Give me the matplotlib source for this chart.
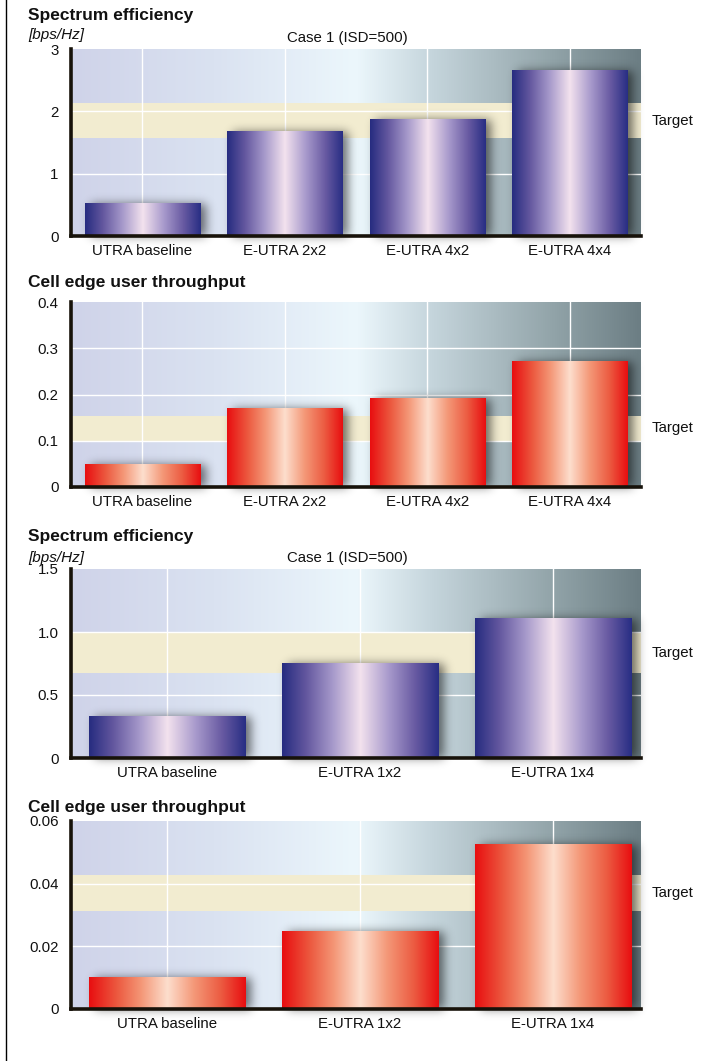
import numpy as np
import matplotlib
matplotlib.use("Agg")
import matplotlib.pyplot as plt
from matplotlib.colors import LinearSegmentedColormap
from matplotlib.lines import Line2D

plt.rcParams['font.family'] = ['Liberation Sans', 'DejaVu Sans']

# data
cats_4 = ['UTRA baseline', 'E-UTRA 2x2', 'E-UTRA 4x2', 'E-UTRA 4x4']
cats_3 = ['UTRA baseline', 'E-UTRA 1x2', 'E-UTRA 1x4']

se_4 = [0.53, 1.685, 1.88, 2.66]
ce_4 = [0.05, 0.171, 0.192, 0.272]
se_3 = [0.337, 0.754, 1.115]
ce_3 = [0.0102, 0.0249, 0.0527]

target_se_4 = (1.57, 2.13)
target_ce_4 = (0.0995, 0.1535)
target_se_3 = (0.674, 1.0)
target_ce_3 = (0.0313, 0.0428)

ticks_se_4 = [0, 1, 2, 3]
ticks_ce_4 = [0, 0.1, 0.2, 0.3, 0.4]
ticks_se_3 = [0, 0.5, 1.0, 1.5]
ticks_ce_3 = [0, 0.02, 0.04, 0.06]
ticklab_se_4 = ['0', '1', '2', '3']
ticklab_ce_4 = ['0', '0.1', '0.2', '0.3', '0.4']
ticklab_se_3 = ['0', '0.5', '1.0', '1.5']
ticklab_ce_3 = ['0', '0.02', '0.04', '0.06']

W, H = 713, 1061
fig = plt.figure(figsize=(W / 100, H / 100), dpi=100)


def rgb(*c):
    return tuple(v / 255 for v in c)


bg_cmap = LinearSegmentedColormap.from_list('bg', [
    (0.0, rgb(207, 211, 233)), (0.25, rgb(218, 226, 241)), (0.5, rgb(236, 247, 252)),
    (0.63, rgb(198, 214, 221)), (0.85, rgb(145, 163, 168)), (1.0, rgb(108, 126, 132))])
blue_cmap = LinearSegmentedColormap.from_list('blue', [
    (0.0, rgb(38, 44, 128)), (0.15, rgb(98, 86, 158)), (0.32, rgb(165, 152, 202)),
    (0.5, rgb(243, 226, 238)), (0.68, rgb(168, 154, 204)), (0.85, rgb(104, 90, 162)),
    (1.0, rgb(40, 46, 132))])
red_cmap = LinearSegmentedColormap.from_list('red', [
    (0.0, rgb(232, 14, 16)), (0.18, rgb(236, 90, 64)), (0.33, rgb(244, 150, 118)),
    (0.5, rgb(253, 222, 205)), (0.67, rgb(244, 152, 120)), (0.84, rgb(236, 92, 66)),
    (1.0, rgb(232, 14, 16))])

band_col = rgb(242, 236, 208)
txt = '#111111'
grad = np.linspace(0, 1, 256).reshape(1, -1)


def gauss_blur(a, sigma):
    r = int(3 * sigma)
    k = np.exp(-0.5 * (np.arange(-r, r + 1) / sigma) ** 2)
    k /= k.sum()
    a = np.apply_along_axis(lambda v: np.convolve(v, k, mode='same'), 0, a)
    a = np.apply_along_axis(lambda v: np.convolve(v, k, mode='same'), 1, a)
    return a


def panel(top, bot, cats, vals, ticks, ticklabs, target, cmap, xr):
    ax = fig.add_axes([71 / W, 1 - bot / H, 570 / W, (bot - top) / H])
    x = np.arange(len(cats))
    ymax = ticks[-1]
    # size of one pixel in data units
    px_x = (xr[1] - xr[0]) / 570
    px_y = ymax / (bot - top)

    ax.imshow(grad, extent=[0, 1, 0, 1], transform=ax.transAxes, aspect='auto',
              cmap=bg_cmap, zorder=0)
    ax.axhspan(target[0], target[1], color=band_col, zorder=1, lw=0)
    for t in ticks[1:-1]:
        ax.axhline(t, color='white', lw=1, zorder=1.5)
    for xi in x:
        ax.axvline(xi, color='white', lw=1, zorder=1.5)

    width = 0.81

    # soft drop shadow: blurred mask of the bars, shifted to the right
    m = 28
    nx, ny = 570 + 2 * m, (bot - top) + 2 * m
    xd = xr[0] + (np.arange(nx) - m + 0.5) * px_x
    yd = (np.arange(ny) - m + 0.5) * px_y
    XX, YY = np.meshgrid(xd, yd)
    mask = np.zeros_like(XX)
    for xi, v in zip(x, vals):
        inside = (np.abs(XX - xi - 6 * px_x) < width / 2) & (YY >= 0) & (YY < v - 1 * px_y)
        mask[inside] = 1
    sh = gauss_blur(mask, 5.0)
    rgba = np.zeros((ny, nx, 4))
    rgba[..., 3] = np.clip(sh, 0, 1) * 0.55
    ax.imshow(rgba, extent=[xd[0] - px_x / 2, xd[-1] + px_x / 2, yd[0] - px_y / 2, yd[-1] + px_y / 2],
              origin='lower', aspect='auto', zorder=2, clip_on=False, interpolation='bilinear')

    bars = ax.bar(x, vals, width, color='none', lw=0, zorder=3)
    for b in bars:
        x0, w, h = b.get_x(), b.get_width(), b.get_height()
        im = ax.imshow(grad, extent=[x0, x0 + w, 0, h], aspect='auto', cmap=cmap, zorder=3)
        im.set_clip_path(b)

    ax.set_xlim(*xr)
    ax.set_ylim(0, ymax)
    ax.set_aspect('auto')
    ax.set_xticks(x)
    ax.set_xticklabels(cats, fontsize=10.8, color=txt)
    ax.set_yticks(ticks)
    ax.set_yticklabels(ticklabs, fontsize=10.8, color=txt)
    ax.tick_params(axis='y', length=0, pad=9)
    ax.tick_params(axis='x', length=0, pad=6)
    for s in ['top', 'right']:
        ax.spines[s].set_visible(False)
    for s in ['left', 'bottom']:
        ax.spines[s].set_linewidth(2.6)
        ax.spines[s].set_color('#17120a')
        ax.spines[s].set_zorder(5)
    ax.text((652 - 71) / 570, (target[0] + target[1]) / 2, 'Target', fontsize=10.8,
            color=txt, va='center', ha='left', transform=ax.get_yaxis_transform())
    return ax


panel(49, 236, cats_4, se_4, ticks_se_4, ticklab_se_4, target_se_4, blue_cmap, (-0.5, 3.5))
panel(302, 487, cats_4, ce_4, ticks_ce_4, ticklab_ce_4, target_ce_4, red_cmap, (-0.5, 3.5))
panel(569, 758, cats_3, se_3, ticks_se_3, ticklab_se_3, target_se_3, blue_cmap, (-0.497, 2.456))
panel(821, 1009, cats_3, ce_3, ticks_ce_3, ticklab_ce_3, target_ce_3, red_cmap, (-0.497, 2.456))


def fx(px):
    return px / W


def fy(py):
    return 1 - py / H


fig.text(fx(28), fy(20), 'Spectrum efficiency', fontsize=12.5, fontweight='bold', color=txt, va='baseline')
fig.text(fx(28), fy(39), '[bps/Hz]', fontsize=11, style='italic', color=txt, va='baseline')
fig.text(fx(347), fy(42), 'Case 1 (ISD=500)', fontsize=10.8, color=txt, va='baseline', ha='center')
fig.text(fx(28), fy(287), 'Cell edge user throughput', fontsize=12.5, fontweight='bold', color=txt, va='baseline')
fig.text(fx(28), fy(541), 'Spectrum efficiency', fontsize=12.5, fontweight='bold', color=txt, va='baseline')
fig.text(fx(28), fy(562), '[bps/Hz]', fontsize=11, style='italic', color=txt, va='baseline')
fig.text(fx(347), fy(562), 'Case 1 (ISD=500)', fontsize=10.8, color=txt, va='baseline', ha='center')
fig.text(fx(28), fy(812), 'Cell edge user throughput', fontsize=12.5, fontweight='bold', color=txt, va='baseline')

# page frame line on the left
fig.add_artist(Line2D([fx(6), fx(6)], [0, 1], color='black', lw=1, transform=fig.transFigure))

fig.savefig('out.png', dpi=100)
